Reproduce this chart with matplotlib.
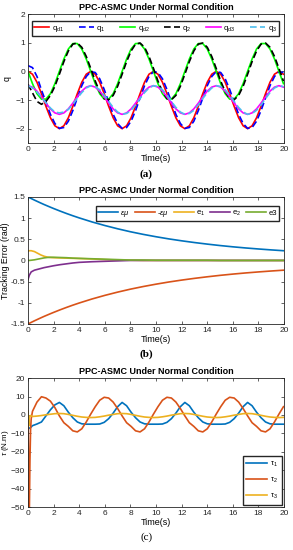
import numpy as np
import matplotlib
matplotlib.use("Agg")
import matplotlib.pyplot as plt

# ── Fonts / style (MATLAB-like) ─────────────────────────────
plt.rcParams["font.family"] = ["Liberation Sans", "DejaVu Sans"]
plt.rcParams["mathtext.fontset"] = "custom"
plt.rcParams["mathtext.rm"] = "Liberation Sans"
plt.rcParams["mathtext.it"] = "Liberation Sans:italic"
plt.rcParams["axes.linewidth"] = 0.6
plt.rcParams["axes.edgecolor"] = "#262626"

# ============================================================
# DATA
# ============================================================

# (a) joint angles, sampled every 0.35 s
T_A = np.round(np.arange(0, 58) * 0.35, 2)

QD1 = [0.00, -0.10, -0.38, -0.78, -1.22, -1.62, -1.90, -2.00, -1.90, -1.62, -1.22, -0.78, -0.38, -0.10,
       0.00, -0.10, -0.38, -0.78, -1.22, -1.62, -1.90, -2.00, -1.90, -1.62, -1.22, -0.78, -0.38, -0.10,
       0.00, -0.10, -0.38, -0.78, -1.22, -1.62, -1.90, -2.00, -1.90, -1.62, -1.22, -0.78, -0.38, -0.10,
       0.00, -0.10, -0.38, -0.78, -1.22, -1.62, -1.90, -2.00, -1.90, -1.62, -1.22, -0.78, -0.38, -0.10,
       0.00, -0.10]
Q1 = [0.20, 0.13, -0.18, -0.65, -1.07, -1.50, -1.82, -1.99, -1.96, -1.74, -1.37, -0.93, -0.50, -0.18,
      -0.01, -0.04, -0.26, -0.63, -1.07, -1.50, -1.82, -1.99, -1.96, -1.74, -1.37, -0.93, -0.50, -0.18,
      -0.01, -0.04, -0.26, -0.63, -1.07, -1.50, -1.82, -1.99, -1.96, -1.74, -1.37, -0.93, -0.50, -0.18,
      -0.01, -0.04, -0.26, -0.63, -1.07, -1.50, -1.82, -1.99, -1.96, -1.74, -1.37, -0.93, -0.50, -0.18,
      -0.01, -0.04]
QD2 = [0.00, -0.43, -0.78, -0.97, -0.97, -0.78, -0.43, 0.00, 0.43, 0.78, 0.97, 0.97, 0.78, 0.43,
       0.00, -0.43, -0.78, -0.97, -0.97, -0.78, -0.43, 0.00, 0.43, 0.78, 0.97, 0.97, 0.78, 0.43,
       0.00, -0.43, -0.78, -0.97, -0.97, -0.78, -0.43, 0.00, 0.43, 0.78, 0.97, 0.97, 0.78, 0.43,
       0.00, -0.43, -0.78, -0.97, -0.97, -0.78, -0.43, 0.00, 0.43, 0.78, 0.97, 0.97, 0.78, 0.43,
       0.00, -0.43]
Q2 = [-0.45, -0.75, -1.05, -1.15, -1.05, -0.84, -0.52, -0.10, 0.34, 0.71, 0.95, 0.99, 0.84, 0.52,
      0.10, -0.34, -0.71, -0.95, -0.99, -0.84, -0.52, -0.10, 0.34, 0.71, 0.95, 0.99, 0.84, 0.52,
      0.10, -0.34, -0.71, -0.95, -0.99, -0.84, -0.52, -0.10, 0.34, 0.71, 0.95, 0.99, 0.84, 0.52,
      0.10, -0.34, -0.71, -0.95, -0.99, -0.84, -0.52, -0.10, 0.34, 0.71, 0.95, 0.99, 0.84, 0.52,
      0.10, -0.34]
QD3 = [-0.50, -0.55, -0.69, -0.89, -1.11, -1.31, -1.45, -1.50, -1.45, -1.31, -1.11, -0.89, -0.69, -0.55,
       -0.50, -0.55, -0.69, -0.89, -1.11, -1.31, -1.45, -1.50, -1.45, -1.31, -1.11, -0.89, -0.69, -0.55,
       -0.50, -0.55, -0.69, -0.89, -1.11, -1.31, -1.45, -1.50, -1.45, -1.31, -1.11, -0.89, -0.69, -0.55,
       -0.50, -0.55, -0.69, -0.89, -1.11, -1.31, -1.45, -1.50, -1.45, -1.31, -1.11, -0.89, -0.69, -0.55,
       -0.50, -0.55]
Q3 = [-0.50, -0.58, -0.72, -0.90, -1.10, -1.28, -1.42, -1.45, -1.42, -1.33, -1.15, -0.94, -0.74, -0.58,
      -0.50, -0.53, -0.64, -0.83, -1.05, -1.26, -1.42, -1.50, -1.47, -1.36, -1.17, -0.95, -0.74, -0.58,
      -0.50, -0.53, -0.64, -0.83, -1.05, -1.26, -1.42, -1.50, -1.47, -1.36, -1.17, -0.95, -0.74, -0.58,
      -0.50, -0.53, -0.64, -0.83, -1.05, -1.26, -1.42, -1.50, -1.47, -1.36, -1.17, -0.95, -0.74, -0.58,
      -0.50, -0.53]
LABELS_A = [r"$\mathregular{q_{d1}}$", r"$\mathregular{q_1}$", r"$\mathregular{q_{d2}}$",
            r"$\mathregular{q_2}$", r"$\mathregular{q_{d3}}$", r"$\mathregular{q_3}$"]

# (b) tracking errors and prescribed performance bound
T_B = [0, 0.1, 0.25, 0.5, 0.75, 1, 1.25, 1.5, 1.75, 2, 2.5, 3, 3.5, 4, 5, 6, 7, 8, 9, 10,
       11, 12, 13, 14, 15, 16, 17, 18, 19, 20]
RHO = [1.50, 1.485, 1.463, 1.426, 1.391, 1.356, 1.322, 1.290, 1.258, 1.227, 1.167, 1.110, 1.056, 1.005,
       0.910, 0.825, 0.748, 0.678, 0.616, 0.560, 0.509, 0.464, 0.423, 0.386, 0.352, 0.322, 0.295,
       0.271, 0.249, 0.229]
E1 = [0.22, 0.23, 0.23, 0.21, 0.17, 0.13, 0.10, 0.08, 0.07, 0.065, 0.06, 0.055, 0.05, 0.045,
      0.035, 0.02, 0.01, 0.005, 0.0, 0.0, 0.0, 0.0, 0.0, 0.0, 0.0, 0.0, 0.0, 0.0, 0.0, 0.0]
E2 = [-0.45, -0.35, -0.27, -0.23, -0.21, -0.19, -0.17, -0.155, -0.14, -0.125, -0.10, -0.08, -0.06,
      -0.045, -0.03, -0.02, -0.01, 0.0, 0.0, 0.0, 0.0, 0.0, 0.0, 0.0, 0.0, 0.0, 0.0, 0.0, 0.0, 0.0]
E3 = [0.0, 0.0, 0.005, 0.015, 0.03, 0.045, 0.06, 0.07, 0.075, 0.075, 0.07, 0.065, 0.055, 0.05,
      0.04, 0.03, 0.02, 0.01, 0.01, 0.005, 0.005, 0.005, 0.005, 0.005, 0.0, 0.0, 0.0, 0.0, 0.0, 0.0]
LABELS_B = [r"$\epsilon\mu$", r"-$\epsilon\mu$", r"$\mathregular{e_1}$", r"$\mathregular{e_2}$", "e3"]

# (c) control torques
T_C = [0, 0.05, 0.1, 0.15, 0.2, 0.25] + list(np.round(np.arange(1, 58) * 0.35, 2))
TAU1 = [-7.5, -7.4, -7.2, -7.0, -6.8, -6.5,
        -5.8, -4.9, -3.8, -0.5, 2.8, 5.5,
        6.8, 5.0, 1.5, -1.5, -3.8, -4.8, -5.0,
        -5.0, -5.0, -4.9, -4.0, -2.0, 1.0, 4.5, 6.8, 5.0, 1.5, -1.5, -3.8, -4.8, -5.0,
        -5.0, -5.0, -4.9, -4.0, -2.0, 1.0, 4.5, 6.8, 5.0, 1.5, -1.5, -3.8, -4.8, -5.0,
        -5.0, -5.0, -4.9, -4.0, -2.0, 1.0, 4.5, 6.8, 5.0, 1.5, -1.5, -3.8, -4.8, -5.0,
        -5.0, -5.0]
TAU2 = [2.0, -30.0, -55.0, -25.0, -8.0, -2.0,
        2.0, 7.0, 9.9, 9.2, 7.5, 4.0,
        -0.5, -4.2, -6.2, -8.6, -9.2, -7.5, -3.8,
        0.5, 4.5, 8.0, 9.6, 9.2, 7.0, 3.5, -0.5, -4.2, -6.2, -8.6, -9.2, -7.5, -3.8,
        0.5, 4.5, 8.0, 9.6, 9.2, 7.0, 3.5, -0.5, -4.2, -6.2, -8.6, -9.2, -7.5, -3.8,
        0.5, 4.5, 8.0, 9.6, 9.2, 7.0, 3.5, -0.5, -4.2, -6.2, -8.6, -9.2, -7.5, -3.8,
        0.5, 4.5]
TAU3 = [2.0, -6.0, -1.5, -0.5, -0.3, -0.5,
        -0.8, -0.6, -0.3, 0.1, 0.4, 0.7,
        0.8, 0.7, 0.3, -0.2, -0.7, -1.1, -1.3,
        -1.4, -1.3, -1.0, -0.6, -0.1, 0.3, 0.7, 0.8, 0.7, 0.3, -0.2, -0.7, -1.1, -1.3,
        -1.4, -1.3, -1.0, -0.6, -0.1, 0.3, 0.7, 0.8, 0.7, 0.3, -0.2, -0.7, -1.1, -1.3,
        -1.4, -1.3, -1.0, -0.6, -0.1, 0.3, 0.7, 0.8, 0.7, 0.3, -0.2, -0.7, -1.1, -1.3,
        -1.4, -1.3]
LABELS_C = [r"$\mathregular{\tau_1}$", r"$\mathregular{\tau_2}$", r"$\mathregular{\tau_3}$"]

TITLE = "PPC-ASMC Under Normal Condition"
FS = 6
LW = 1.2

# ============================================================
# FIGURE
# ============================================================
fig = plt.figure(figsize=(2.93, 5.50), dpi=100)
ax1 = fig.add_axes([0.0956, 0.740, 0.874, 0.2345])
ax2 = fig.add_axes([0.0956, 0.411, 0.874, 0.2309])
ax3 = fig.add_axes([0.0956, 0.078, 0.874, 0.2345])


def style(ax, ylabel, ylab_x, ylab_fs=FS + 0.3):
    ax.set_xlim(0, 20)
    ax.set_xticks(range(0, 21, 2))
    ax.tick_params(direction="in", top=True, right=True, labelsize=FS,
                   length=2.5, width=0.5, pad=2, colors="#262626")
    ax.set_xlabel("Time(s)", fontsize=FS + 0.5, labelpad=1)
    ax.set_ylabel(ylabel, fontsize=ylab_fs)
    ax.yaxis.set_label_coords(ylab_x, 0.5)
    ax.set_title(TITLE, fontsize=FS + 0.5, fontweight="bold", pad=3)


# Panel (a)
ax1.plot(T_A, QD1, color="#FF0000", lw=LW, label=LABELS_A[0])
ax1.plot(T_A, Q1, color="#0000FF", lw=LW, dashes=(4, 2), label=LABELS_A[1])
ax1.plot(T_A, QD2, color="#00FF00", lw=LW, label=LABELS_A[2])
ax1.plot(T_A, Q2, color="black", lw=LW, dashes=(4, 2), label=LABELS_A[3])
ax1.plot(T_A, QD3, color="#FF00FF", lw=LW, label=LABELS_A[4])
ax1.plot(T_A, Q3, color="#4DBEEE", lw=LW, dashes=(4, 2), label=LABELS_A[5])
ax1.set_ylim(-2.5, 2)
ax1.set_yticks([-2, -1, 0, 1, 2])
style(ax1, "q", -0.065)
ax1.legend(ncol=6, fontsize=FS - 0.5, bbox_to_anchor=(0.015, 0.844, 0.965, 0.1),
           mode="expand", borderaxespad=0, handlelength=2.0, handletextpad=0.3,
           columnspacing=0.4, fancybox=False, edgecolor="#262626",
           framealpha=1, borderpad=0.3)

# Panel (b)
ax2.plot(T_B, RHO, color="#0072BD", lw=LW, label=LABELS_B[0])
ax2.plot(T_B, [-v for v in RHO], color="#D95319", lw=LW, label=LABELS_B[1])
ax2.plot(T_B, E1, color="#EDB120", lw=LW, label=LABELS_B[2])
ax2.plot(T_B, E2, color="#7E2F8E", lw=LW, label=LABELS_B[3])
ax2.plot(T_B, E3, color="#77AC30", lw=LW, label=LABELS_B[4])
ax2.set_ylim(-1.5, 1.5)
ax2.set_yticks([-1.5, -1, -0.5, 0, 0.5, 1, 1.5])
ax2.set_yticklabels(["-1.5", "-1", "-0.5", "0", "0.5", "1", "1.5"])
style(ax2, "Tracking Error (rad)", -0.07)
ax2.legend(ncol=5, fontsize=FS - 0.5, bbox_to_anchor=(0.265, 0.833, 0.715, 0.094),
           mode="expand", borderaxespad=0, handlelength=2.6, handletextpad=0.3,
           columnspacing=0.5, fancybox=False, edgecolor="#262626",
           framealpha=1, borderpad=0.3)

# Panel (c)
ax3.plot(T_C, TAU1, color="#0072BD", lw=LW, label=LABELS_C[0])
ax3.plot(T_C, TAU2, color="#D95319", lw=LW, label=LABELS_C[1])
ax3.plot(T_C, TAU3, color="#EDB120", lw=LW, label=LABELS_C[2])
ax3.set_ylim(-50, 20)
ax3.set_yticks(range(-50, 21, 10))
style(ax3, r"$\tau$ (N.m)", -0.068, ylab_fs=FS - 0.2)
ax3.legend(loc="lower right", fontsize=FS - 0.5, handlelength=2.7, handletextpad=0.4,
           labelspacing=0.9, fancybox=False, edgecolor="#262626", framealpha=1,
           borderaxespad=0.3, borderpad=0.5)

# Panel letters
fig.text(0.5, 1 - 174 / 550, "(a)", ha="center", va="center", fontsize=8,
         family="Liberation Serif", fontweight="bold")
fig.text(0.5, 1 - 354 / 550, "(b)", ha="center", va="center", fontsize=8,
         family="Liberation Serif", fontweight="bold")
fig.text(0.5, 1 - 537 / 550, "(c)", ha="center", va="center", fontsize=8,
         family="Liberation Serif")

plt.savefig("out.png", dpi=100)
